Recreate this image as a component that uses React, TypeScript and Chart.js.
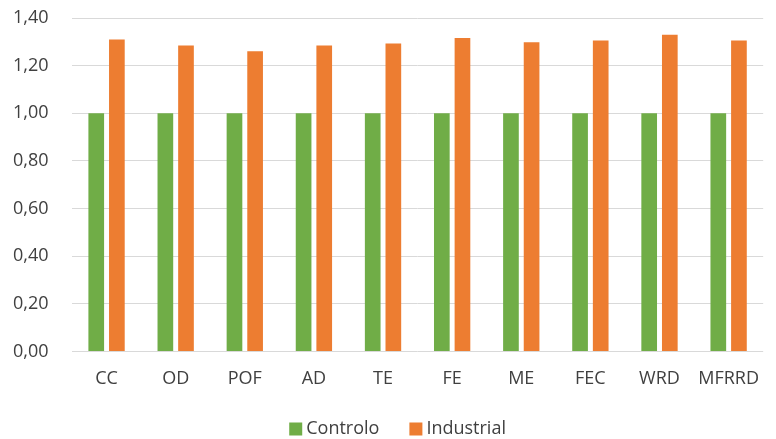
import React, { useEffect, useRef } from "react";
import { Chart, registerables } from "chart.js";

Chart.register(...registerables);

const categories = ["CC", "OD", "POF", "AD", "TE", "FE", "ME", "FEC", "WRD", "MFRRD"];
const controlo = [1.0, 1.0, 1.0, 1.0, 1.0, 1.0, 1.0, 1.0, 1.0, 1.0];
const industrial = [1.31, 1.285, 1.26, 1.285, 1.293, 1.316, 1.298, 1.305, 1.33, 1.305];
const seriesNames = ["Controlo", "Industrial"];
const seriesColors = ["#70AD47", "#ED7D31"];

const FONT_FAMILY = "'Open Sans', 'Noto Sans', sans-serif";
const TEXT_COLOR = "#404040";

const legendPlugin = {
  id: "bottomLegend",
  afterDraw(chart: any) {
    const ctx = chart.ctx as CanvasRenderingContext2D;
    const datasets = chart.data.datasets;
    ctx.save();
    ctx.font = `18px ${FONT_FAMILY}`;
    ctx.textBaseline = "middle";
    ctx.textAlign = "left";
    const box = 13;
    const boxGap = 4;
    const itemGap = 30;
    const widths = datasets.map((d: any) => box + boxGap + ctx.measureText(d.label).width);
    const total = widths.reduce((a: number, b: number) => a + b, 0) + itemGap * (datasets.length - 1);
    const ca = chart.chartArea;
    const center = (ca.left + ca.right) / 2 - 20;
    let x = center - total / 2;
    const y = 429;
    datasets.forEach((d: any, i: number) => {
      ctx.fillStyle = d.backgroundColor;
      ctx.fillRect(x, y - box / 2, box, box);
      ctx.fillStyle = TEXT_COLOR;
      ctx.fillText(d.label, x + box + boxGap, y);
      x += widths[i] + itemGap;
    });
    ctx.restore();
  },
};

export default function App() {
  const ref = useRef<HTMLCanvasElement | null>(null);
  useEffect(() => {
    if (!ref.current) return;
    const font = { family: FONT_FAMILY, size: 18 };
    const chart = new Chart(ref.current, {
      type: "bar",
      data: {
        labels: categories,
        datasets: [
          { label: seriesNames[0], data: controlo, backgroundColor: seriesColors[0], categoryPercentage: 0.597, barPercentage: 0.76 },
          { label: seriesNames[1], data: industrial, backgroundColor: seriesColors[1], categoryPercentage: 0.597, barPercentage: 0.76 },
        ],
      },
      plugins: [legendPlugin],
      options: {
        animation: false,
        responsive: false,
        maintainAspectRatio: false,
        layout: { padding: { top: 18, right: 0, left: 13, bottom: 32 } },
        plugins: {
          tooltip: { enabled: false },
          legend: { display: false },
        },
        scales: {
          x: {
            grid: { display: false, drawTicks: false },
            border: { display: false },
            ticks: { color: TEXT_COLOR, font, padding: 17, autoSkip: false, maxRotation: 0 },
          },
          y: {
            min: 0,
            max: 1.4,
            afterFit: (s: any) => { s.width = 59; },
            grid: { color: "#d9d9d9", drawTicks: false, lineWidth: 1 },
            border: { display: false },
            ticks: {
              stepSize: 0.2,
              color: TEXT_COLOR,
              font,
              padding: 0,
              crossAlign: "far",
              callback: (v: any) => Number(v).toFixed(2).replace(".", ","),
            },
          },
        },
      },
    });
    return () => chart.destroy();
  }, []);
  return (
    <div style={{ position: "absolute", left: 0, top: 0, width: 776, height: 439, background: "#fff" }}>
      <canvas ref={ref} width={776} height={439} style={{ width: 776, height: 439 }} />
    </div>
  );
}
